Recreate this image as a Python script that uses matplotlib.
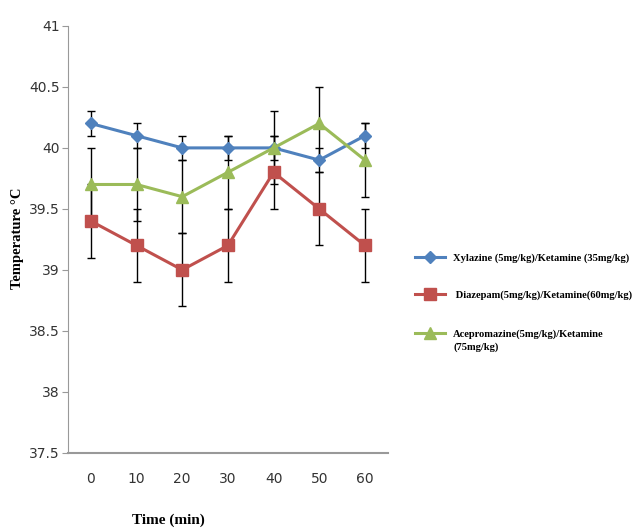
import matplotlib
matplotlib.use("Agg")
import matplotlib.pyplot as plt
from matplotlib.lines import Line2D

# data
times = ["0", "10", "20", "30", "40", "50", "60"]

xylazine = [40.2, 40.1, 40.0, 40.0, 40.0, 39.9, 40.1]
xylazine_err = [0.1, 0.1, 0.1, 0.1, 0.1, 0.1, 0.1]

diazepam = [39.4, 39.2, 39.0, 39.2, 39.8, 39.5, 39.2]
diazepam_err = [0.3, 0.3, 0.3, 0.3, 0.3, 0.3, 0.3]

acepromazine = [39.7, 39.7, 39.6, 39.8, 40.0, 40.2, 39.9]
acepromazine_err = [0.3, 0.3, 0.3, 0.3, 0.3, 0.3, 0.3]

labels = ["Xylazine (5mg/kg)/Ketamine (35mg/kg)",
          " Diazepam(5mg/kg)/Ketamine(60mg/kg)",
          "Acepromazine(5mg/kg)/Ketamine\n(75mg/kg)"]

yticks = [37.5, 38, 38.5, 39, 39.5, 40, 40.5, 41]

BLUE = "#4F81BD"
RED = "#C0504D"
GREEN = "#9BBB59"

SERIF = "Liberation Serif"

W, H = 642, 529
fig = plt.figure(figsize=(W / 100, H / 100), dpi=100)
ax = fig.add_axes([0.106, 0.144, 0.498, 0.807])

x = list(range(len(times)))
series = [
    (xylazine, xylazine_err, BLUE, "D", 6.5),
    (diazepam, diazepam_err, RED, "s", 8),
    (acepromazine, acepromazine_err, GREEN, "^", 8),
]

for vals, err, col, mk, ms in series:
    ax.errorbar(x, vals, yerr=err, fmt="none", ecolor="black",
                elinewidth=1, capsize=3, capthick=1, zorder=2)
    ax.plot(x, vals, color=col, linewidth=2.2, marker=mk, markersize=ms, zorder=3)

ax.set_xlim(-0.5, 6.5)
ax.set_ylim(37.5, 41)
ax.set_xticks(x)
ax.set_xticklabels(times)
ax.set_yticks(yticks)
ax.set_yticklabels([f"{v:g}" for v in yticks])

for lab in ax.get_xticklabels() + ax.get_yticklabels():
    lab.set_fontsize(10)
    lab.set_color("#333333")

ax.spines["top"].set_visible(False)
ax.spines["right"].set_visible(False)
ax.spines["left"].set_color("#999999")
ax.spines["bottom"].set_color("#999999")
ax.spines["bottom"].set_linewidth(1.5)
ax.tick_params(axis="y", length=4, color="#999999", pad=2)
ax.tick_params(axis="x", length=0, pad=14)

fig.text(18 / W, 1 - 238 / H, "Temperature °C", family=SERIF, fontweight="bold",
         fontsize=10.5, rotation=90, ha="center", va="center")
fig.text(168 / W, 0.004, "Time (min)", family=SERIF, fontweight="bold",
         fontsize=11, ha="center", va="bottom")

# legend drawn by hand so the wrapped label keeps its marker on the first line
leg_y = [257, 294, 333]
for (vals, err, col, mk, ms), lab, yy in zip(series, labels, leg_y):
    fy = 1 - yy / H
    fig.add_artist(Line2D([415 / W, 445 / W], [fy, fy], color=col, linewidth=2.2,
                          transform=fig.transFigure))
    fig.add_artist(Line2D([430 / W], [fy], color=col, marker=mk, markersize=ms,
                          transform=fig.transFigure))
    fig.text(453 / W, fy + 4 / H, lab, family=SERIF, fontweight="bold", fontsize=7.6,
             ha="left", va="top", linespacing=1.5)

fig.savefig("out.png", dpi=100)
